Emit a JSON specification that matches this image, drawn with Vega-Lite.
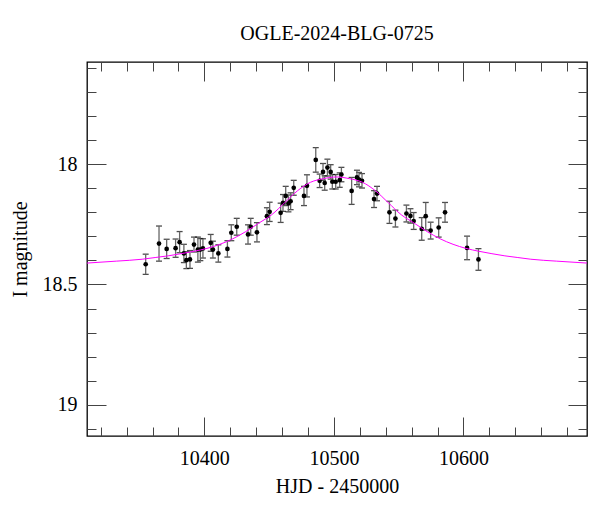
{
  "$schema": "https://vega.github.io/schema/vega-lite/v6.json",
  "width": 500,
  "height": 374,
  "autosize": {"type": "none"},
  "padding": {"left": 87, "top": 62, "right": 13, "bottom": 76},
  "background": "white",
  "title": {"text": "OGLE-2024-BLG-0725", "anchor": "middle", "offset": 18, "font": "Liberation Serif", "fontSize": 20, "fontWeight": "normal", "color": "black"},
  "config": {
    "view": {"stroke": "black", "strokeWidth": 1.3},
    "axis": {"domain": false, "grid": false, "tickColor": "#444", "tickWidth": 1, "labelFont": "Liberation Serif", "labelFontSize": 20, "labelColor": "black", "titleFont": "Liberation Serif", "titleFontSize": 20, "titleFontWeight": "normal", "titleColor": "black"}
  },
  "datasets": {
    "obs": [
      {"d": 10354.7, "mag": 18.416, "err": 0.042},
      {"d": 10365.0, "mag": 18.330, "err": 0.073},
      {"d": 10370.9, "mag": 18.352, "err": 0.040},
      {"d": 10377.8, "mag": 18.349, "err": 0.038},
      {"d": 10380.9, "mag": 18.324, "err": 0.044},
      {"d": 10384.2, "mag": 18.371, "err": 0.038},
      {"d": 10386.1, "mag": 18.399, "err": 0.035},
      {"d": 10388.9, "mag": 18.396, "err": 0.037},
      {"d": 10392.0, "mag": 18.334, "err": 0.031},
      {"d": 10395.0, "mag": 18.355, "err": 0.052},
      {"d": 10396.9, "mag": 18.355, "err": 0.046},
      {"d": 10398.9, "mag": 18.350, "err": 0.040},
      {"d": 10404.9, "mag": 18.327, "err": 0.035},
      {"d": 10406.6, "mag": 18.355, "err": 0.035},
      {"d": 10410.8, "mag": 18.371, "err": 0.036},
      {"d": 10417.8, "mag": 18.352, "err": 0.034},
      {"d": 10420.8, "mag": 18.285, "err": 0.033},
      {"d": 10425.0, "mag": 18.260, "err": 0.035},
      {"d": 10433.7, "mag": 18.292, "err": 0.040},
      {"d": 10435.8, "mag": 18.260, "err": 0.035},
      {"d": 10440.6, "mag": 18.283, "err": 0.040},
      {"d": 10448.3, "mag": 18.216, "err": 0.035},
      {"d": 10450.4, "mag": 18.198, "err": 0.040},
      {"d": 10458.9, "mag": 18.202, "err": 0.040},
      {"d": 10460.7, "mag": 18.161, "err": 0.035},
      {"d": 10462.8, "mag": 18.132, "err": 0.040},
      {"d": 10464.9, "mag": 18.163, "err": 0.035},
      {"d": 10466.6, "mag": 18.154, "err": 0.035},
      {"d": 10469.0, "mag": 18.098, "err": 0.031},
      {"d": 10476.9, "mag": 18.132, "err": 0.040},
      {"d": 10479.2, "mag": 18.090, "err": 0.046},
      {"d": 10486.0, "mag": 17.982, "err": 0.051},
      {"d": 10489.0, "mag": 18.069, "err": 0.028},
      {"d": 10491.6, "mag": 18.032, "err": 0.035},
      {"d": 10492.9, "mag": 18.078, "err": 0.030},
      {"d": 10495.0, "mag": 18.014, "err": 0.035},
      {"d": 10497.5, "mag": 18.032, "err": 0.030},
      {"d": 10498.8, "mag": 18.073, "err": 0.030},
      {"d": 10501.4, "mag": 18.073, "err": 0.030},
      {"d": 10504.5, "mag": 18.066, "err": 0.030},
      {"d": 10505.8, "mag": 18.043, "err": 0.030},
      {"d": 10513.7, "mag": 18.111, "err": 0.056},
      {"d": 10517.8, "mag": 18.055, "err": 0.030},
      {"d": 10519.4, "mag": 18.064, "err": 0.030},
      {"d": 10521.7, "mag": 18.069, "err": 0.030},
      {"d": 10531.0, "mag": 18.145, "err": 0.035},
      {"d": 10533.3, "mag": 18.122, "err": 0.030},
      {"d": 10542.9, "mag": 18.200, "err": 0.046},
      {"d": 10547.5, "mag": 18.226, "err": 0.035},
      {"d": 10556.0, "mag": 18.205, "err": 0.035},
      {"d": 10559.1, "mag": 18.215, "err": 0.030},
      {"d": 10561.6, "mag": 18.236, "err": 0.035},
      {"d": 10567.8, "mag": 18.269, "err": 0.047},
      {"d": 10570.9, "mag": 18.216, "err": 0.057},
      {"d": 10574.7, "mag": 18.276, "err": 0.035},
      {"d": 10580.9, "mag": 18.263, "err": 0.040},
      {"d": 10585.8, "mag": 18.200, "err": 0.041},
      {"d": 10602.8, "mag": 18.348, "err": 0.049},
      {"d": 10611.6, "mag": 18.396, "err": 0.045}
    ],
    "model": [
      {"d": 10309.4, "mag": 18.411},
      {"d": 10332, "mag": 18.403},
      {"d": 10352, "mag": 18.395},
      {"d": 10362, "mag": 18.388},
      {"d": 10372, "mag": 18.381},
      {"d": 10382, "mag": 18.372},
      {"d": 10392, "mag": 18.362},
      {"d": 10402, "mag": 18.350},
      {"d": 10412, "mag": 18.333},
      {"d": 10422, "mag": 18.310},
      {"d": 10432, "mag": 18.280},
      {"d": 10442, "mag": 18.245},
      {"d": 10452, "mag": 18.210},
      {"d": 10462, "mag": 18.160},
      {"d": 10472, "mag": 18.110},
      {"d": 10482, "mag": 18.075},
      {"d": 10492, "mag": 18.060},
      {"d": 10502, "mag": 18.053},
      {"d": 10512, "mag": 18.060},
      {"d": 10522, "mag": 18.075},
      {"d": 10532, "mag": 18.110},
      {"d": 10542, "mag": 18.160},
      {"d": 10552, "mag": 18.210},
      {"d": 10562, "mag": 18.245},
      {"d": 10572, "mag": 18.280},
      {"d": 10582, "mag": 18.310},
      {"d": 10592, "mag": 18.333},
      {"d": 10602, "mag": 18.350},
      {"d": 10612, "mag": 18.362},
      {"d": 10622, "mag": 18.372},
      {"d": 10632, "mag": 18.381},
      {"d": 10642, "mag": 18.388},
      {"d": 10652, "mag": 18.395},
      {"d": 10672, "mag": 18.403},
      {"d": 10695.4, "mag": 18.411}
    ]
  },
  "layer": [
    {
      "data": {"name": "obs"},
      "mark": {"type": "errorbar", "ticks": {"size": 6, "color": "black", "strokeWidth": 1}, "color": "#666", "thickness": 1.3},
      "encoding": {
        "x": {"field": "d", "type": "quantitative", "scale": {"domain": [10309.4, 10695.4], "nice": false, "zero": false},
          "axis": {"orient": "bottom", "values": [10400, 10500, 10600], "tickSize": -19, "labelPadding": 31, "format": "d", "title": "HJD - 2450000", "titlePadding": 8}},
        "y": {"field": "mag", "type": "quantitative", "scale": {"domain": [17.575, 19.13], "nice": false, "zero": false, "reverse": true},
          "axis": {"orient": "left", "values": [18, 18.5, 19], "tickSize": -19, "labelPadding": 29, "format": "~g", "title": "I magnitude", "titlePadding": 12}},
        "yError": {"field": "err"}
      }
    },
    {
      "data": {"name": "obs"},
      "mark": {"type": "point", "filled": true, "color": "black", "opacity": 1, "size": 22},
      "encoding": {
        "x": {"field": "d", "type": "quantitative", "scale": {"domain": [10309.4, 10695.4], "nice": false, "zero": false},
          "axis": {"orient": "bottom", "values": [10320, 10340, 10360, 10380, 10420, 10440, 10460, 10480, 10520, 10540, 10560, 10580, 10620, 10640, 10660, 10680], "tickSize": -9, "labels": false, "title": null}},
        "y": {"field": "mag", "type": "quantitative", "scale": {"domain": [17.575, 19.13], "nice": false, "zero": false, "reverse": true},
          "axis": {"orient": "left", "values": [17.6, 17.7, 17.8, 17.9, 18.1, 18.2, 18.3, 18.4, 18.6, 18.7, 18.8, 18.9, 19.1], "tickSize": -9, "labels": false, "title": null}}
      }
    },
    {
      "data": {"name": "model"},
      "mark": {"type": "line", "color": "#ff00ff", "strokeWidth": 1, "interpolate": "monotone"},
      "encoding": {
        "x": {"field": "d", "type": "quantitative", "scale": {"domain": [10309.4, 10695.4], "nice": false, "zero": false},
          "axis": {"orient": "top", "values": [10400, 10500, 10600], "tickSize": -19, "labels": false, "title": null}},
        "y": {"field": "mag", "type": "quantitative", "scale": {"domain": [17.575, 19.13], "nice": false, "zero": false, "reverse": true},
          "axis": {"orient": "right", "values": [18, 18.5, 19], "tickSize": -19, "labels": false, "title": null}}
      }
    },
    {
      "data": {"name": "model"},
      "mark": {"type": "line", "strokeOpacity": 0},
      "encoding": {
        "x": {"field": "d", "type": "quantitative", "scale": {"domain": [10309.4, 10695.4], "nice": false, "zero": false},
          "axis": {"orient": "top", "values": [10320, 10340, 10360, 10380, 10420, 10440, 10460, 10480, 10520, 10540, 10560, 10580, 10620, 10640, 10660, 10680], "tickSize": -9, "labels": false, "title": null}},
        "y": {"field": "mag", "type": "quantitative", "scale": {"domain": [17.575, 19.13], "nice": false, "zero": false, "reverse": true},
          "axis": {"orient": "right", "values": [17.6, 17.7, 17.8, 17.9, 18.1, 18.2, 18.3, 18.4, 18.6, 18.7, 18.8, 18.9, 19.1], "tickSize": -9, "labels": false, "title": null}}
      }
    }
  ],
  "resolve": {"axis": {"x": "independent", "y": "independent"}}
}
